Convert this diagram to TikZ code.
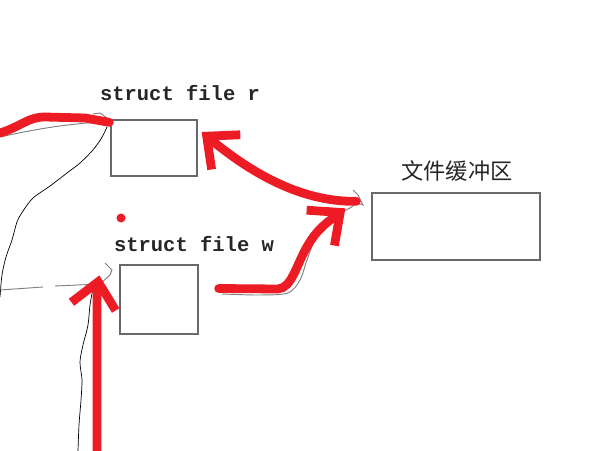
\documentclass[tikz,border=0pt]{standalone}
\usepackage{fontspec}
\setmonofont{Liberation Mono}
\newfontfamily\cjk{Noto Sans CJK SC}
\usetikzlibrary{arrows.meta, calc, positioning}
\definecolor{penred}{RGB}{237,28,36}
\definecolor{boxgray}{RGB}{105,105,105}

\begin{document}
\begin{tikzpicture}[
  x=0.03cm, y=-0.03cm,
  every node/.style={inner sep=0pt},
  slot/.style={rectangle, draw=boxgray, line width=1.1pt},
  tag/.style={font=\ttfamily\bfseries\fontsize{17.5pt}{20pt}\selectfont, text=black!85},
  pen/.style={penred, line width=7.5pt, line cap=round, line join=round},
  penarrow/.style={pen, -{Straight Barb[length=0.75cm, width=1.35cm]}},
  trace/.style={black, line width=0.6pt},
  faint/.style={gray, line width=0.8pt},
]
  \useasboundingbox (0,0) rectangle (606,451);

  % boxes and labels
  \node[slot, minimum width=2.58cm, minimum height=1.68cm] (fileR) at (154,148) {};
  \node[slot, minimum width=2.34cm, minimum height=2.07cm] (fileW) at (159,299.5) {};
  \node[slot, minimum width=5.04cm, minimum height=2.01cm] (buf) at (456,226.5) {};
  \node[tag] (labR) at (180,93) {struct file r};
  \node[tag] (labW) at (194,244) {struct file w};
  \node[font=\cjk\fontsize{19pt}{20pt}\selectfont, text=black!85] (labBuf) at (457,171) {文件缓冲区};
  \node[circle, fill=penred, minimum size=0.27cm] (dot) at (121,218) {};

  % thin traces under the pen
  \draw[trace] plot[smooth] coordinates {(107,127) (101,139) (92,151) (80,163) (67,173) (50,186) (33,198) (23,211) (17,222) (12,240) (6,257) (2,275) (0,297)};
  \draw[trace] plot[smooth] coordinates {(93,288) (90,305) (88,325) (83,345) (80,362) (82,380) (81,400) (79,425) (78,451)};
  \draw[faint] (0,137) .. controls (40,128) and (70,124) .. (100,122);
  \draw[faint] (93,114) -- (100,113) -- (107,118);
  \draw[faint] (0,290) -- (43,287);
  \draw[faint] (55,286) -- (100,284) -- (110,275) -- (112,270) -- (105,263);
  \draw[faint] plot[smooth] coordinates {(222,294) (260,295) (288,293) (300,280) (307,260) (315,240) (330,220) (350,208)};
  \draw[faint] (350,208) -- (357,203) -- (363,205) -- (358,195) -- (353,190);
  \draw[faint] (225,150) .. controls (235,158) .. (255,170);

  % red pen strokes
  \coordinate (leftIn) at (0,133);
  \coordinate (bottomIn) at (97,451);
  \coordinate (bufOut) at ($(buf.north west)+(-15,9)$);
  \draw[pen] (leftIn) .. controls (22,126) and (28,117) .. (45,117)
    -- (85,118) -- ($(fileR.north west)+(-1,3)$);
  \draw[penarrow] (bufOut) .. controls (300,202) and (250,172) .. ($(fileR.east)+(4,-16)$);
  \draw[penarrow] ($(fileW.east)+(20,-11)$) -- (278,289)
    .. controls (292,288) and (296,265) .. (308,245)
    .. controls (318,228) and (328,222) .. ($(buf.north west)+(-26,16)$);
  \draw[penarrow] (bottomIn) -- (97,300) .. controls (97,288) .. ($(fileW.north west)+(-20,11)$);
\end{tikzpicture}
\end{document}
